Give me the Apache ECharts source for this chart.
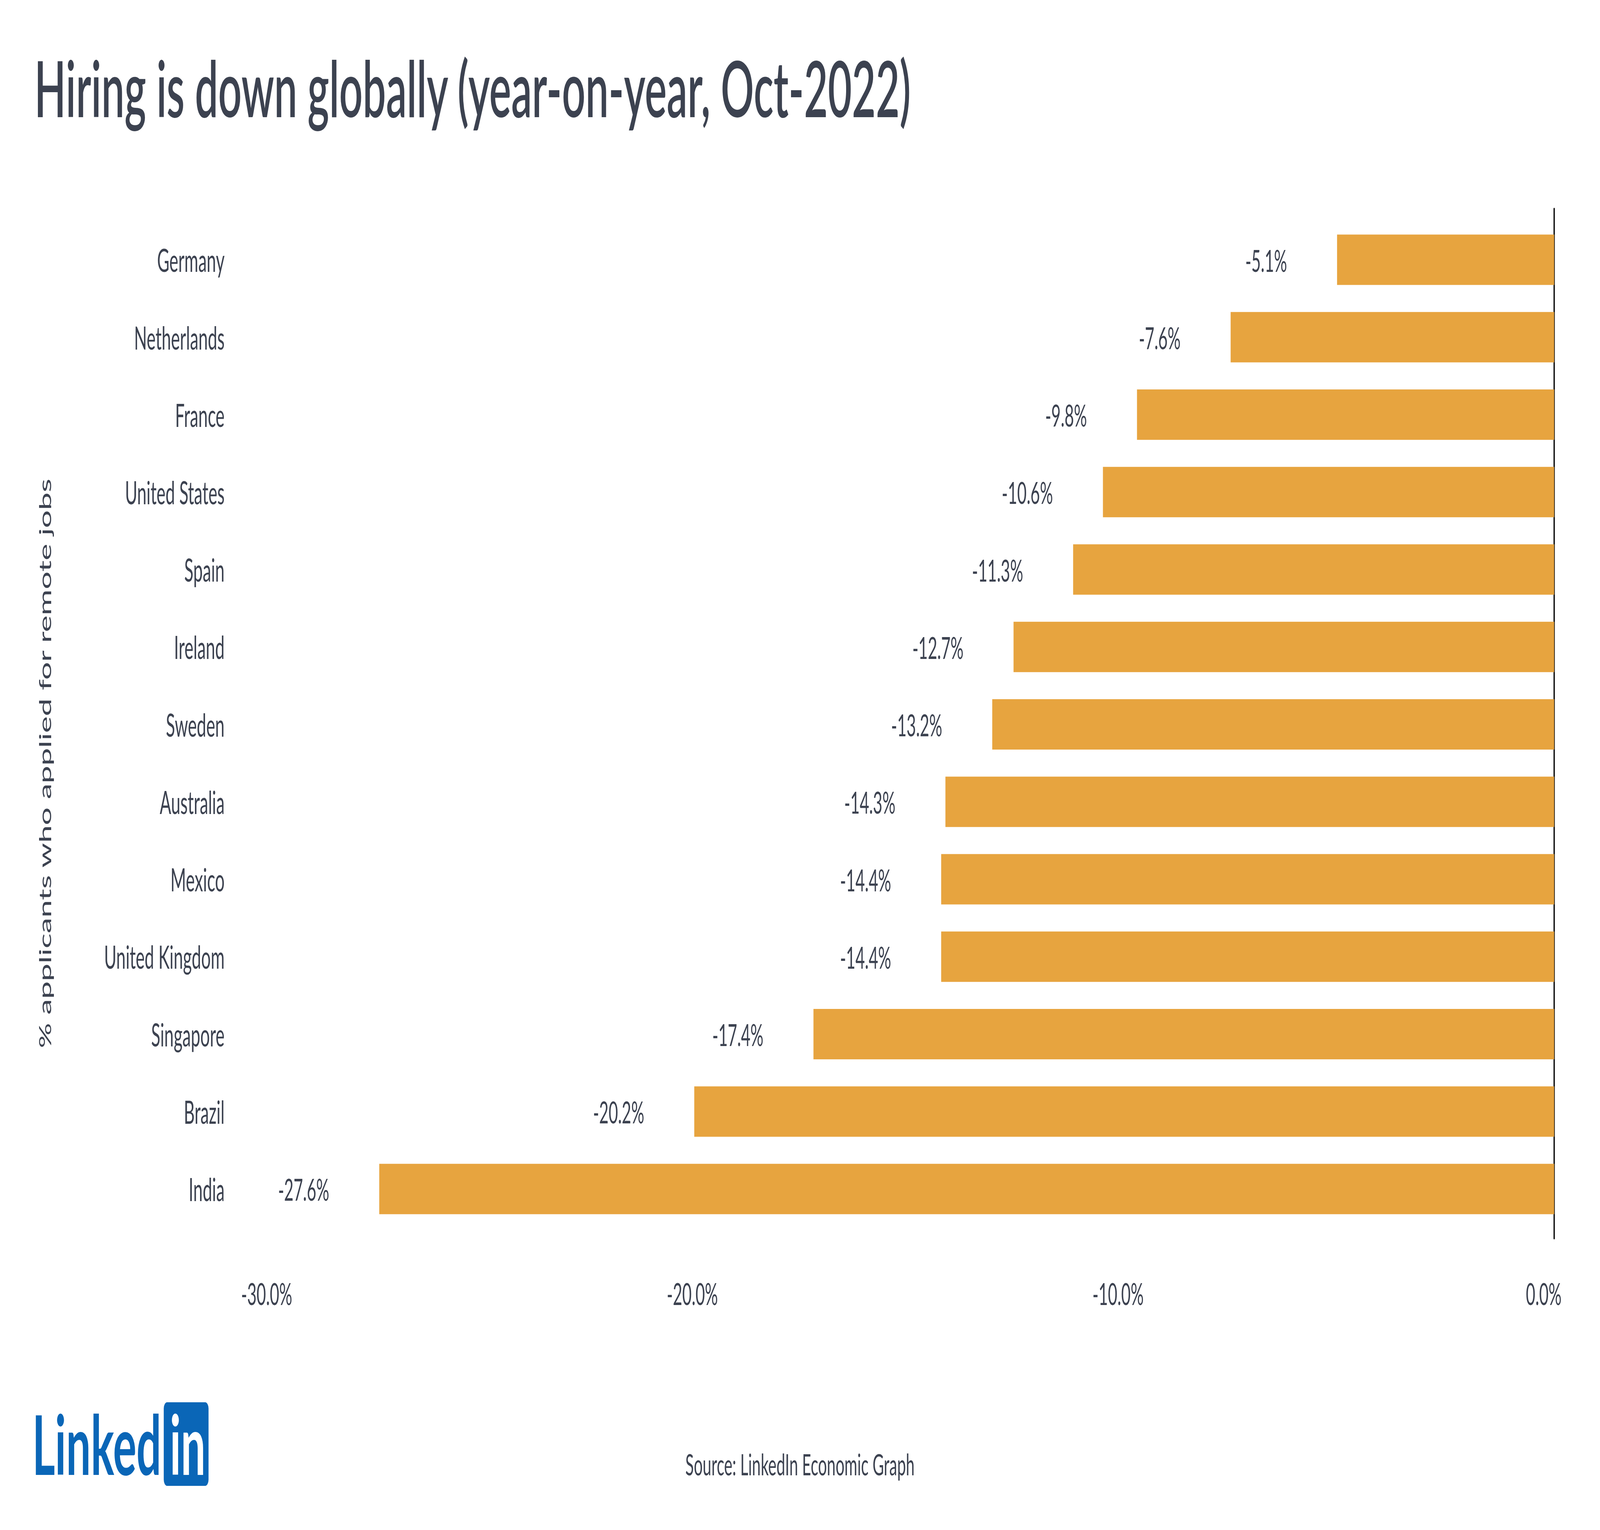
<!DOCTYPE html>
<html>
<head>
<meta charset="utf-8">
<script src="https://cdn.jsdelivr.net/npm/echarts@6/dist/echarts.min.js"></script>
<style>
html,body{margin:0;padding:0;background:#fff;overflow:hidden;}
#chart{width:7680px;height:3917px;transform-origin:0 0;}
</style>
</head>
<body>
<div id="chart"></div>
<script>
const countries = ['Germany','Netherlands','France','United States','Spain','Ireland','Sweden','Australia','Mexico','United Kingdom','Singapore','Brazil','India'];
const values = [-5.1,-7.6,-9.8,-10.6,-11.3,-12.7,-13.2,-14.3,-14.4,-14.4,-17.4,-20.2,-27.6];
const xTicks = [-30,-20,-10,0];
const titleText = 'Hiring is down globally (year-on-year, Oct-2022)';
const yAxisTitle = '% applicants who applied for remote jobs';
const sourceText = 'Source: LinkedIn Economic Graph';

const FONT = 'Lato';
const TXT = '#3c4250';
const BAR = '#E7A43F';
const BLUE = '#0A66B7';

// fit the 7680x3917 design into whatever window the page gets
const el = document.getElementById('chart');
const sx = window.innerWidth / 7680, sy = window.innerHeight / 3917;
if (Math.abs(sx - 1) > 0.001 || Math.abs(sy - 1) > 0.001) {
  el.style.transform = 'scale(' + sx + ',' + sy + ')';
}

const chart = echarts.init(el, null, { renderer: 'svg', width: 7680, height: 3917 });
chart.setOption({
  animation: false,
  backgroundColor: '#fff',
  textStyle: { fontFamily: FONT },
  title: [
    { text: titleText, left: 160, top: 119,
      textStyle: { fontFamily: FONT, fontSize: 198, fontWeight: 600, color: TXT } },
    { text: sourceText, left: 'center', top: 3706,
      textStyle: { fontFamily: FONT, fontSize: 75, fontWeight: 400, color: TXT } }
  ],
  grid: [
    { left: 1330, right: 220, top: 566, height: 2577, containLabel: false },
    { left: 1330, right: 220, top: 535, height: 2635, containLabel: false }
  ],
  xAxis: [
    { type: 'value', gridIndex: 0, min: xTicks[0], max: xTicks[xTicks.length - 1], interval: 10,
      axisLine: { show: false }, axisTick: { show: false }, splitLine: { show: false },
      axisLabel: { fontFamily: FONT, fontSize: 78, color: TXT, margin: 128,
        padding: [0, 100, 0, 0],
        formatter: v => v.toFixed(1) + '%' } },
    { type: 'value', gridIndex: 1, min: -30, max: 0, show: false }
  ],
  yAxis: [
    { type: 'category', gridIndex: 0, data: countries, inverse: true,
      axisLine: { show: false }, axisTick: { show: false }, splitLine: { show: false },
      axisLabel: { fontFamily: FONT, fontSize: 81, color: TXT, margin: 252,
        padding: [14, 0, 0, 0] },
      name: yAxisTitle, nameLocation: 'middle', nameGap: 1075, nameRotate: 90,
      nameTextStyle: { fontFamily: FONT, fontSize: 81, color: TXT, padding: [0, 200, 0, 0] } },
    { type: 'value', gridIndex: 1, position: 'right', min: 0, max: 1,
      axisLine: { show: true, lineStyle: { color: '#000', width: 6 } },
      axisTick: { show: false }, axisLabel: { show: false }, splitLine: { show: false } }
  ],
  series: [{
    type: 'bar', xAxisIndex: 0, yAxisIndex: 0,
    data: values, barWidth: 129,
    itemStyle: { color: BAR },
    label: { show: true, position: 'left', distance: 240,
      fontFamily: FONT, fontSize: 78, color: TXT,
      formatter: p => p.value.toFixed(1) + '%' }
  }],
  graphic: [
    { type: 'text', left: 155, top: 3590,
      style: { text: 'Linked', font: 'bold 210px ' + FONT, fill: BLUE } },
    { type: 'rect', shape: { x: 786, y: 3590, width: 215, height: 214, r: 16 },
      style: { fill: BLUE } },
    { type: 'text', left: 815, top: 3590,
      style: { text: 'in', font: 'bold 210px ' + FONT, fill: '#fff' } }
  ]
});
</script>
</body>
</html>
